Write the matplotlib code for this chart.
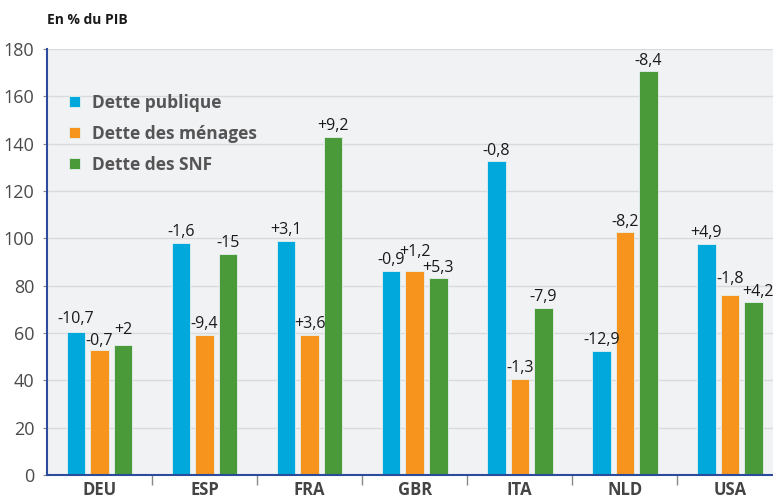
import matplotlib
matplotlib.use("Agg")
from matplotlib import pyplot as plt
import numpy as np

plt.rcParams['font.family'] = ['Open Sans', 'DejaVu Sans']

pays = ["DEU", "ESP", "FRA", "GBR", "ITA", "NLD", "USA"]
series = ["Dette publique", "Dette des ménages", "Dette des SNF"]
publique = [60.6, 98.0, 99.0, 86.1, 132.5, 52.6, 97.7]
menages = [52.7, 59.3, 59.3, 86.3, 40.7, 102.5, 76.1]
snf = [55.1, 93.4, 143.0, 83.1, 70.5, 170.5, 73.3]
lab_publique = ["-10,7", "-1,6", "+3,1", "-0,9", "-0,8", "-12,9", "+4,9"]
lab_menages = ["-0,7", "-9,4", "+3,6", "+1,2", "-1,3", "-8,2", "-1,8"]
lab_snf = ["+2", "-15", "+9,2", "+5,3", "-7,9", "-8,4", "+4,2"]
couleurs = ["#00a8dc", "#f7941d", "#4a9a3a"]

# petits decalages des etiquettes (en points), comme sur l'original
decal_y = [[3, 2, 2, 2, 2, 2, 2],
           [1, 2, 2, 8, 2, 2, 6],
           [5, 2, 2, 2, 2, 2, 1]]
decal_x = [[0, 0, 0, 0, 0, 0, 0],
           [0, 0, 0, 0, 0, 0, 0],
           [0, 0, 0, 0, 0, 0, 3]]

fig = plt.figure(figsize=(7.73, 5.0), dpi=100)
ax = fig.add_axes([0.0608, 0.05, 0.9392, 0.852])
ax.set_facecolor("#f1f2f4")

x = np.arange(len(pays))
w = 0.176
dx = 0.224
for i, (vals, labs) in enumerate(zip([publique, menages, snf], [lab_publique, lab_menages, lab_snf])):
    bars = ax.bar(x + (i - 1) * dx, vals, w, color=couleurs[i], edgecolor="#e8f0f0",
                  linewidth=0.6, label=series[i], zorder=3)
    for j, (b, t) in enumerate(zip(bars, labs)):
        ax.annotate(t, (b.get_x() + b.get_width() / 2, b.get_height()),
                    xytext=(decal_x[i][j], decal_y[i][j]),
                    textcoords="offset points", ha="center", va="bottom",
                    fontsize=11.5, color="#1a1a1a", zorder=4)

ax.set_xlim(-0.5, 6.41)
ax.set_ylim(0, 180)
ax.set_yticks(range(0, 181, 20))
ax.yaxis.grid(True, color="#d9dadd", linewidth=1, zorder=0)
ax.tick_params(axis="y", labelsize=13, labelcolor="#4a4a4a", color="#888888", length=3, pad=6)

ax.set_xticks(x)
ax.set_xticklabels(pays, fontsize=12, fontweight="bold", color="#444444")
ax.set_xticks(np.arange(0.5, 6.5, 1), minor=True)
ax.tick_params(axis="x", which="major", length=0, pad=4)
ax.tick_params(axis="x", which="minor", length=7, color="#888888", width=1)

for s in ["top", "right"]:
    ax.spines[s].set_visible(False)
for s in ["left", "bottom"]:
    ax.spines[s].set_color("#2b4c9b")
    ax.spines[s].set_linewidth(1.5)
    ax.spines[s].set_zorder(5)

leg = ax.legend(loc="upper left", bbox_to_anchor=(0.03, 0.895), frameon=False,
                prop={"weight": "bold", "size": 12.5}, handlelength=0.65, handleheight=0.65,
                handletextpad=0.7, labelspacing=0.75, borderpad=0, borderaxespad=0)
for t in leg.get_texts():
    t.set_color("#555555")

fig.text(0.061, 0.96, "En % du PIB", fontsize=10, fontweight="bold", color="#1a1a1a",
         ha="left", va="center")

fig.savefig("out.png", dpi=100)
